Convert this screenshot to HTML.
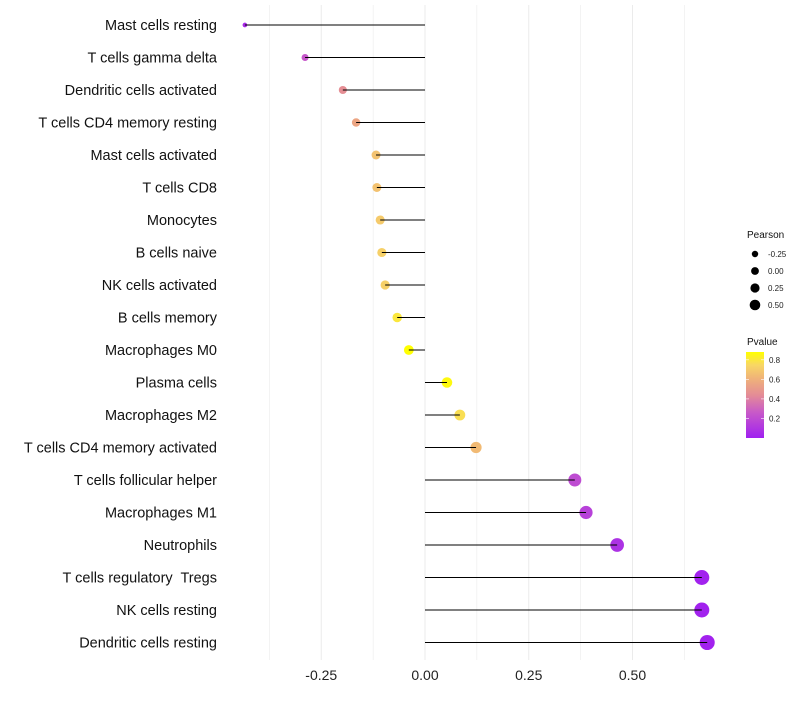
<!DOCTYPE html>
<html><head><meta charset="utf-8"><style>
body{margin:0;background:#fff;font-family:"Liberation Sans",sans-serif}
svg text{font-family:"Liberation Sans",sans-serif}
</style></head><body>
<svg id="chart" width="800" height="700"></svg>
<script>
const categories=["Mast cells resting","T cells gamma delta","Dendritic cells activated","T cells CD4 memory resting","Mast cells activated","T cells CD8","Monocytes","B cells naive","NK cells activated","B cells memory","Macrophages M0","Plasma cells","Macrophages M2","T cells CD4 memory activated","T cells follicular helper","Macrophages M1","Neutrophils","T cells regulatory  Tregs","NK cells resting","Dendritic cells resting"];
const pearsonValues=[-0.434,-0.289,-0.198,-0.166,-0.118,-0.116,-0.108,-0.104,-0.096,-0.067,-0.039,0.053,0.084,0.123,0.361,0.388,0.463,0.667,0.667,0.680];
const pValues=[0.05,0.25,0.45,0.55,0.67,0.67,0.7,0.72,0.72,0.8,0.88,0.86,0.77,0.64,0.2,0.15,0.08,0.01,0.01,0.01];
const xTicks=[-0.25,0,0.25,0.5];
const xTickLabels=["-0.25","0.00","0.25","0.50"];
const sizeLegend=[-0.25,0,0.25,0.5];
const sizeLegendLabels=["-0.25","0.00","0.25","0.50"];
const colorLegend=[0.8,0.6,0.4,0.2];

const NS="http://www.w3.org/2000/svg";
const svg=document.getElementById('chart');
function mk(t,a,p){const e=document.createElementNS(NS,t);for(const k in a)e.setAttribute(k,a[k]);(p||svg).appendChild(e);return e;}
const x=v=>425+v*415;
const y=i=>25+i*32.5;
const pmin=0,pmax=0.88;
const stops=[[0,[160,32,240]],[0.3,[200,90,200]],[0.5,[228,140,150]],[0.7,[240,180,120]],[0.85,[248,215,100]],[1,[255,255,0]]];
function col(p){let t=(p-pmin)/(pmax-pmin);t=Math.max(0,Math.min(1,t));for(let i=1;i<stops.length;i++){if(t<=stops[i][0]){const a=stops[i-1],b=stops[i];const f=(t-a[0])/(b[0]-a[0]);const c=a[1].map((v,k)=>Math.round(v+(b[1][k]-v)*f));return `rgb(${c})`;}}return 'rgb(255,255,0)';}
const vmin=Math.min(...pearsonValues);
const rad=v=>Math.sqrt(Math.max(1,5.5+46*(v-vmin)));

for(let v=-0.375;v<=0.7;v+=0.125){
 const g=mk('line',{x1:x(v),x2:x(v),y1:5,y2:660,stroke:'#ebebeb','stroke-width':Math.abs((v*4)%1)<0.01?1:0.6});
 
 
}
xTicks.forEach((v,i)=>{
 const t=mk('text',{x:x(v),y:680,'text-anchor':'middle','font-size':14,fill:'#222'});t.textContent=xTickLabels[i];
 
 
});
categories.forEach((c,i)=>{
 const t=mk('text',{x:217,y:y(i)+5,'text-anchor':'end','font-size':14.5,fill:'#111','xml:space':'preserve'});t.textContent=c;
 t.style.whiteSpace='pre';
 
 
 const v=pearsonValues[i];
 const pt=mk('circle',{cx:x(v),cy:y(i),r:rad(v),fill:col(pValues[i])});
 
 
 const s=mk('line',{x1:x(0),x2:x(v),y1:y(i),y2:y(i),stroke:'#000','stroke-width':1.1});
 
 
});
const lt=mk('text',{x:747,y:238,'font-size':10,fill:'#111'});lt.textContent='Pearson';


sizeLegend.forEach((v,i)=>{
 const cy=254+i*17;
 const c=mk('circle',{cx:755,cy:cy,r:3.2+i*0.7,fill:'#000'});
 
 
 const t=mk('text',{x:768,y:cy+3,'font-size':8,fill:'#222'});t.textContent=sizeLegendLabels[i];
 
 
});
const ct=mk('text',{x:747,y:345,'font-size':10,fill:'#111'});ct.textContent='Pvalue';


const defs=mk('defs',{});const lg=mk('linearGradient',{id:'pg',x1:0,y1:1,x2:0,y2:0},defs);
stops.forEach(s=>mk('stop',{offset:s[0],'stop-color':`rgb(${s[1]})`},lg));
const bar=mk('rect',{x:746,y:352,width:18,height:86,fill:'url(#pg)'});


const cy=p=>438-(p-pmin)/(pmax-pmin)*86;
colorLegend.forEach(p=>{
 mk('line',{x1:746,x2:749,y1:cy(p),y2:cy(p),stroke:'#fff','stroke-width':0.6});
 mk('line',{x1:761,x2:764,y1:cy(p),y2:cy(p),stroke:'#fff','stroke-width':0.6});
 const t=mk('text',{x:769,y:cy(p)+3,'font-size':8,fill:'#222'});t.textContent=p.toFixed(1);
 
 
});
</script>
</body></html>
